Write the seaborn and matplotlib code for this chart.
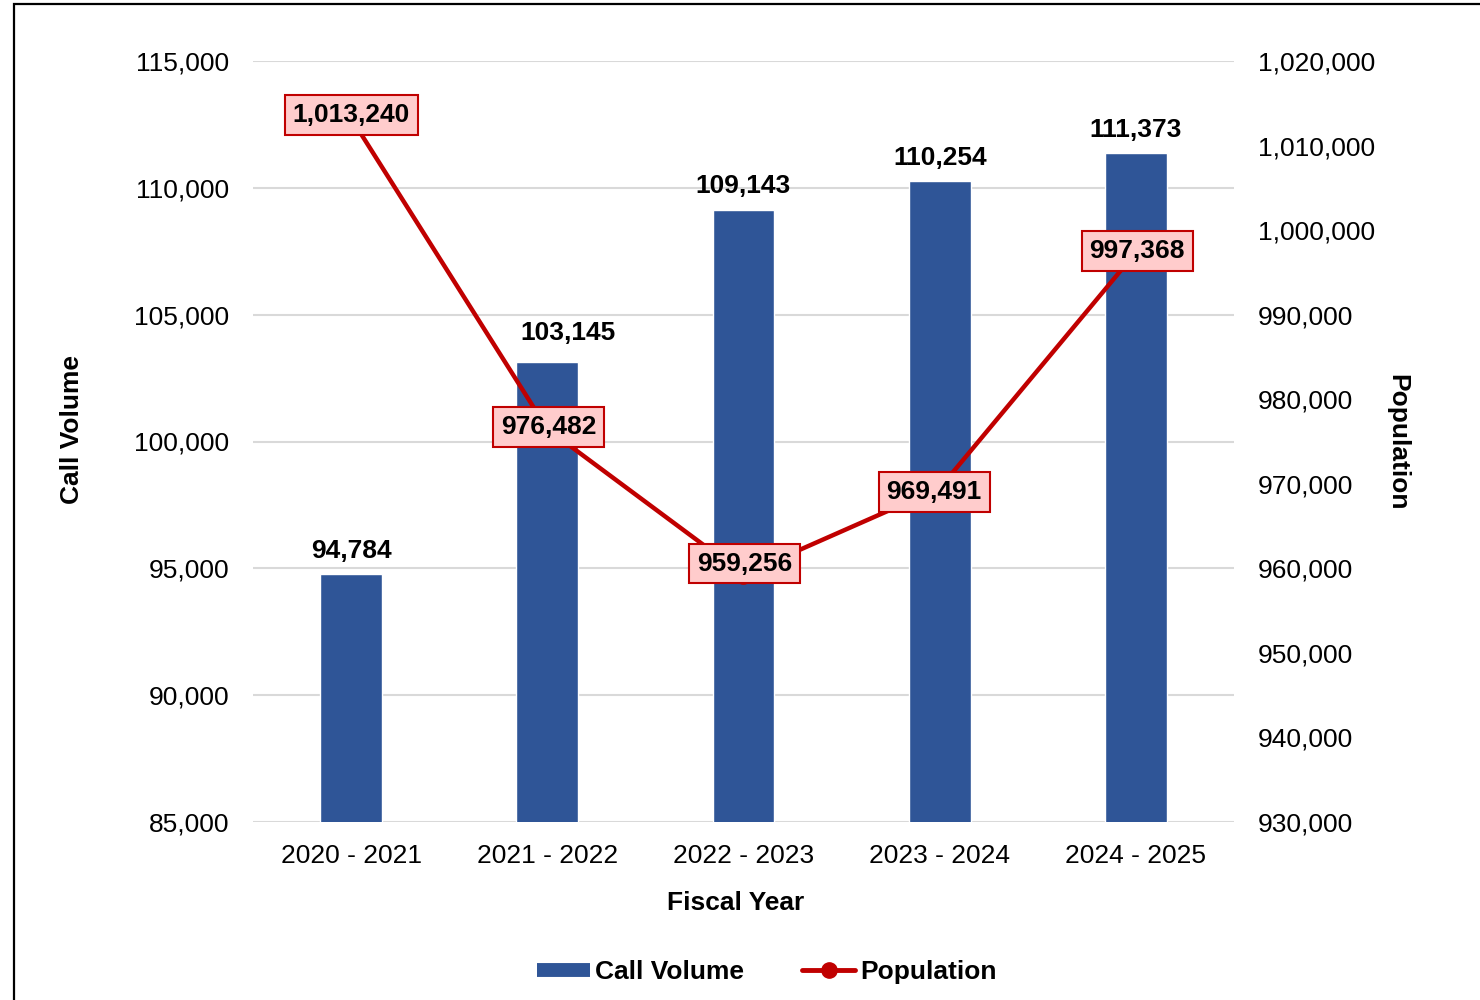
import matplotlib
matplotlib.use("Agg")
import matplotlib.pyplot as plt
import seaborn as sns
import pandas as pd
from matplotlib.lines import Line2D
from matplotlib.patches import Rectangle

years = ["2020 - 2021", "2021 - 2022", "2022 - 2023", "2023 - 2024", "2024 - 2025"]
call_volume = [94784, 103145, 109143, 110254, 111373]
population = [1013240, 976482, 959256, 969491, 997368]
left_ticks = [85000, 90000, 95000, 100000, 105000, 110000, 115000]
right_ticks = [930000, 940000, 950000, 960000, 970000, 980000, 990000, 1000000, 1010000, 1020000]

BAR = "#2F5597"
RED = "#C00000"
FS = 19

sns.set_theme(style="white")
plt.rcParams['font.family'] = ['Liberation Sans', 'DejaVu Sans']
plt.rcParams['text.color'] = 'black'
plt.rcParams['xtick.color'] = 'black'
plt.rcParams['ytick.color'] = 'black'
plt.rcParams['axes.labelcolor'] = 'black'

df = pd.DataFrame({"year": years, "calls": call_volume, "pop": population})

fig = plt.figure(figsize=(14.8, 10), dpi=100)
ax = fig.add_axes([253/1480, 1-822/1000, (1234-253)/1480, (822-61)/1000])

sns.barplot(data=df, x="year", y="calls", color=BAR, saturation=1, width=0.316, ax=ax, zorder=2)
ax.set_ylim(85000, 115000)
ax.set_yticks(left_ticks)
ax.set_yticklabels([f"{v:,}" for v in left_ticks], fontsize=FS, color="black")
ax.yaxis.grid(True, color="#D9D9D9", linewidth=1.5, zorder=0)
ax.set_axisbelow(True)
for s in ax.spines.values():
    s.set_visible(False)
ax.tick_params(axis="y", length=0, pad=17, labelcolor="black")
ax.tick_params(axis="x", length=0, pad=16, labelsize=FS, labelcolor="black")
ax.set_xlabel("")
ax.set_ylabel("")

bar_dx = [0, 15, 0, 0, 0]
bar_dy = [8, 12, 8, 8, 8]
for i, v in enumerate(call_volume):
    ax.annotate(f"{v:,}", (i, v), xytext=(bar_dx[i], bar_dy[i]), textcoords="offset points",
                ha="center", va="bottom", fontsize=FS, fontweight="bold", color="black")

ax2 = ax.twinx()
sns.pointplot(data=df, x="year", y="pop", color=RED, markers="o", linestyles="-",
              markersize=11, linewidth=3.2, ax=ax2)
ax2.set_ylim(930000, 1020000)
ax2.set_yticks(right_ticks)
ax2.set_yticklabels([f"{v:,}" for v in right_ticks], fontsize=FS, color="black")
ax2.tick_params(axis="y", length=0, pad=17, labelcolor="black")
for s in ax2.spines.values():
    s.set_visible(False)
ax2.set_ylabel("")
ax2.set_xlabel("")
ax2.grid(False)
ax.set_xlim(-0.5, 4.5)
ax2.set_xlim(-0.5, 4.5)

pop_dx = [0, 1, 1, -4, 1]
pop_dy = [2, 1.5, 8, -3, 1]
for i, v in enumerate(population):
    ax2.annotate(f"{v:,}", (i, v), xytext=(pop_dx[i], pop_dy[i]), textcoords="offset points",
                 ha="center", va="center", fontsize=FS, fontweight="bold", color="black",
                 bbox=dict(boxstyle="square,pad=0.3", facecolor="#FFCCCC", edgecolor=RED, linewidth=1.5),
                 zorder=5)

fig.text(736/1480, 1-903/1000, "Fiscal Year", ha="center", va="center", fontsize=FS, fontweight="bold")
fig.text(72/1480, 1-430/1000, "Call Volume", ha="center", va="center", rotation=90, fontsize=FS, fontweight="bold")
fig.text(1397/1480, 1-442/1000, "Population", ha="center", va="center", rotation=270, fontsize=FS, fontweight="bold")

handles = [Line2D([0], [0], color=BAR, linewidth=10, solid_capstyle="butt", label="Call Volume"),
           Line2D([0], [0], color=RED, linewidth=3.5, marker="o", markersize=11, label="Population")]
leg = fig.legend(handles=handles, loc="center", bbox_to_anchor=(767/1480, 1-972/1000), ncol=2,
                 frameon=False, prop={"size": FS, "weight": "bold"}, handlelength=2.0,
                 handletextpad=0.2, columnspacing=2.2)

fig.add_artist(Rectangle((14/1480, -0.02), 1.1, 1.02 - 4/1000, transform=fig.transFigure,
                         fill=False, edgecolor="black", linewidth=1.6))

fig.savefig("out.png", dpi=100)
